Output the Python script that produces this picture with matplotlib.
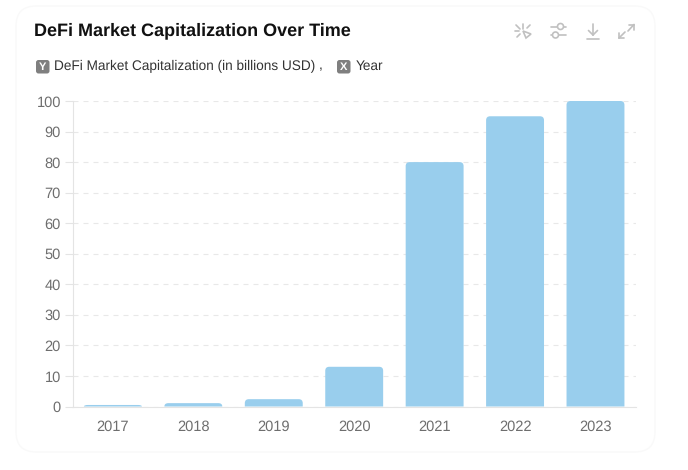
import matplotlib
matplotlib.use("Agg")
import matplotlib.pyplot as plt
from matplotlib.patches import FancyBboxPatch, PathPatch, Polygon, Circle
from matplotlib.path import Path
from matplotlib.lines import Line2D

years = ["2017", "2018", "2019", "2020", "2021", "2022", "2023"]
market_cap = [0.5, 1.1, 2.4, 13, 80, 95, 100]
y_ticks = [0, 10, 20, 30, 40, 50, 60, 70, 80, 90, 100]
title = "DeFi Market Capitalization Over Time"
y_label = "DeFi Market Capitalization (in billions USD)"
x_label = "Year"

W, H = 688, 470
plt.rcParams['font.family'] = ['Liberation Sans', 'DejaVu Sans']
plt.rcParams['text.hinting'] = 'no_hinting'
fig = plt.figure(figsize=(W / 100, H / 100), dpi=100, facecolor="white")

bg = fig.add_axes([0, 0, 1, 1], zorder=0)
bg.set_xlim(0, W); bg.set_ylim(H, 0); bg.axis("off")
bg.add_patch(FancyBboxPatch((16, 6), 639, 446, boxstyle="round,pad=0,rounding_size=20",
                            fc="white", ec="#f9f9f9", lw=1))

bg.text(34, 30.5, title, fontsize=13, fontweight="bold", color="#111111", va="center", ha="left")

def tag(x, letter):
    bg.add_patch(FancyBboxPatch((x, 60), 13.5, 13.5, boxstyle="round,pad=0,rounding_size=2.5",
                                fc="#7f7f7f", ec="none"))
    bg.text(x + 6.75, 66.8, letter, fontsize=8, fontweight="bold", color="white", ha="center", va="center")

tag(36, "Y")
bg.text(54.5, 66, y_label, fontsize=9.8, color="#333333", va="center", ha="left")
bg.text(319, 66, ",", fontsize=9.8, color="#333333", va="center", ha="left")
tag(337, "X")
bg.text(355.5, 66, x_label, fontsize=9.8, color="#333333", va="center", ha="left")

# toolbar icons
ic = "#c0c0c0"
def seg(x0, y0, x1, y1, lw=1.2):
    bg.add_line(Line2D([x0, x1], [y0, y1], color=ic, lw=lw, solid_capstyle="round"))
for a in [(516, 25, 520, 29), (523, 24, 523, 29), (530, 25, 527, 28), (515, 31, 519, 31), (517, 37, 520, 34)]:
    seg(*a)
bg.add_patch(Polygon([(523, 31), (531, 34), (526, 38)], closed=True, fc="none", ec=ic, lw=1.2))
seg(551, 26.5, 566, 26.5); seg(551, 35, 566, 35)
bg.add_patch(Circle((560.5, 26.5), 3, fc="white", ec=ic, lw=1.2, zorder=3))
bg.add_patch(Circle((555.5, 35), 3, fc="white", ec=ic, lw=1.2, zorder=3))
seg(593, 24, 593, 35); seg(588.5, 30.5, 593, 35); seg(597.5, 30.5, 593, 35); seg(587, 38.5, 599, 38.5)
seg(628, 31, 634, 24.5); seg(629, 24.5, 634, 24.5); seg(634, 24.5, 634, 29.5)
seg(619, 38, 625, 32); seg(619, 38, 619, 33); seg(619, 38, 624, 38)

L, R, T, B = 72.7, 635.7, 101, 406.5
ax = fig.add_axes([L / W, 1 - B / H, (R - L) / W, (B - T) / H], zorder=1)
ax.patch.set_alpha(0)
ax.set_xlim(-0.5, 6.5)
ax.set_ylim(0, 100)

bars = ax.bar(range(len(years)), market_cap, width=0.72, color="#99ceed", zorder=3)
# round the top corners of each bar
rx_px, ry_px = 4, 4
sx = (R - L) / 7
sy = (B - T) / 100
for b in bars:
    x0, x1 = b.get_x(), b.get_x() + b.get_width()
    top = b.get_height()
    rx = rx_px / sx
    ry = min(ry_px / sy, top)
    verts = [(x0, 0), (x0, top - ry), (x0, top), (x0 + rx, top), (x1 - rx, top), (x1, top), (x1, top - ry), (x1, 0), (x0, 0)]
    codes = [Path.MOVETO, Path.LINETO, Path.CURVE3, Path.CURVE3, Path.LINETO, Path.CURVE3, Path.CURVE3, Path.LINETO, Path.CLOSEPOLY]
    b.set_visible(False)
    ax.add_patch(PathPatch(Path(verts, codes), fc="#99ceed", ec="none", zorder=3, clip_on=False))

ax.set_yticks(y_ticks)
ax.set_xticks(range(len(years)), years)
ax.grid(axis="y", color="#e8e8e8", lw=0.8, ls=(0, (4.5, 4.5)), zorder=1)
ax.set_axisbelow(True)
for s in ["top", "right"]:
    ax.spines[s].set_visible(False)
for s in ["left", "bottom"]:
    ax.spines[s].set_color("#e4e4e4")
    ax.spines[s].set_linewidth(0.8)
ax.tick_params(axis="y", length=6, width=0.8, color="#e4e4e4", labelcolor="#6e6e6e", labelsize=10.5, pad=2.5)
ax.tick_params(axis="x", length=0, labelcolor="#6e6e6e", labelsize=10.5, pad=10)

fig.savefig("out.png", dpi=100)
